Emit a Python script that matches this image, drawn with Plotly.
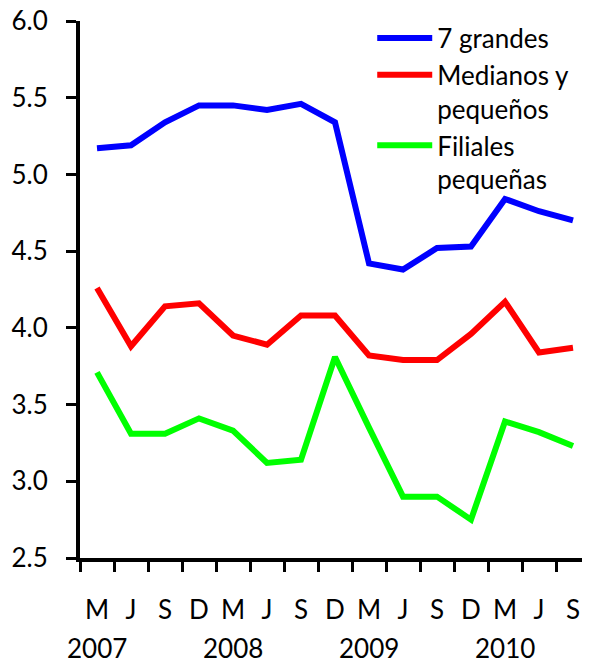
import plotly.graph_objects as go

quarter_labels = ["M", "J", "S", "D", "M", "J", "S", "D", "M", "J", "S", "D", "M", "J", "S"]
year_labels = ["2007", "", "", "", "2008", "", "", "", "2009", "", "", "", "2010", "", ""]
categories = [f"{q}{i}" for i, q in enumerate(quarter_labels)]

grandes = [5.17, 5.19, 5.34, 5.45, 5.45, 5.42, 5.46, 5.34, 4.42, 4.38, 4.52, 4.53, 4.84, 4.76, 4.70]
medianos = [4.26, 3.88, 4.14, 4.16, 3.95, 3.89, 4.08, 4.08, 3.82, 3.79, 3.79, 3.96, 4.17, 3.84, 3.87]
filiales = [3.71, 3.31, 3.31, 3.41, 3.33, 3.12, 3.14, 3.81, 3.35, 2.90, 2.90, 2.75, 3.39, 3.32, 3.23]

series_names = ["7 grandes", "Medianos y<br>pequeños", "Filiales<br>pequeñas"]
series_colors = ["#0000FF", "#FF0000", "#00FF00"]

y_ticks = [2.5, 3.0, 3.5, 4.0, 4.5, 5.0, 5.5, 6.0]
y_ticktext = ["2.5", "3.0", "3.5", "4.0", "4.5", "5.0", "5.5", "6.0"]

FONT = "Lato"
fig = go.Figure()
for name, vals, col in zip(series_names, [grandes, medianos, filiales], series_colors):
    fig.add_trace(go.Scatter(x=categories, y=vals, mode="lines", name=name,
                             line=dict(color=col, width=6)))

for cat, yr in zip(categories, year_labels):
    if yr:
        fig.add_annotation(x=cat, xref="x", y=-0.1676, yref="paper", text=yr,
                           showarrow=False, xanchor="center", yanchor="middle",
                           font=dict(family=FONT, size=26, color="black"))

fig.update_layout(
    width=582, height=653,
    margin=dict(l=72, r=0, t=13, b=103, autoexpand=False),
    paper_bgcolor="white", plot_bgcolor="white",
    font=dict(family=FONT, size=26, color="black"),
    showlegend=True,
    legend=dict(x=0.573, y=1.012, xanchor="left", yanchor="top",
                bgcolor="rgba(0,0,0,0)", itemwidth=55, valign="top",
                tracegroupgap=0, font=dict(size=26)),
)
fig.update_xaxes(type="category", categoryorder="array", categoryarray=categories,
                 range=[-0.5, 14.5], tickmode="array", tickvals=categories, ticktext=quarter_labels,
                 tickson="boundaries", ticks="outside", ticklen=10, tickwidth=3, tickcolor="black",
                 showline=True, linewidth=4, linecolor="black", showgrid=False, zeroline=False,
                 ticklabelstandoff=26, tickangle=0, automargin=False, ticklabeloverflow="allow")
fig.update_yaxes(range=[2.5, 6.0], tickmode="array", tickvals=y_ticks, ticktext=y_ticktext,
                 ticks="outside", ticklen=10, tickwidth=3, tickcolor="black",
                 showline=True, linewidth=4, linecolor="black", showgrid=False, zeroline=False,
                 ticklabelstandoff=13, automargin=False, ticklabeloverflow="allow")

fig.write_html("out.html")
